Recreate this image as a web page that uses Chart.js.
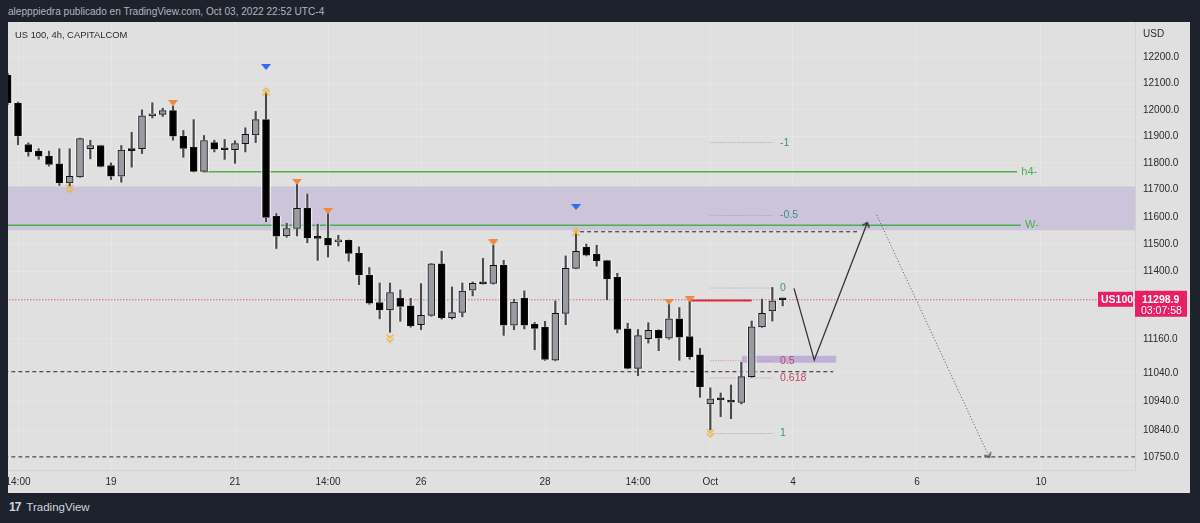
<!DOCTYPE html>
<html>
<head>
<meta charset="utf-8">
<script src="https://cdn.jsdelivr.net/npm/chart.js@4.4.1/dist/chart.umd.min.js"></script>
<style>
  html, body { margin: 0; padding: 0; width: 1200px; height: 523px; overflow: hidden; background: #1e222d; font-family: "Liberation Sans", Arial, sans-serif; }
  #head { position: absolute; left: 8px; top: 6px; font-size: 10.1px; color: #b2b5be; white-space: nowrap; }
  #panel { position: absolute; left: 8px; top: 22px; width: 1182px; height: 471px; background: #e0e0e0; }
  #title { position: absolute; left: 15px; top: 29px; font-size: 9.4px; color: #2a2a2a; white-space: nowrap; }
  #logo { position: absolute; left: 9px; top: 500px; font-size: 11.5px; color: #d1d4dc; white-space: nowrap; }
  #logo b { font-size: 12px; letter-spacing: -1px; margin-right: 6px; }
</style>
</head>
<body>
<div id="head">alepppiedra publicado en TradingView.com, Oct 03, 2022 22:52 UTC-4</div>
<div id="panel"><canvas id="chart"></canvas></div>
<div id="title">US 100, 4h, CAPITALCOM</div>
<div id="logo"><b>17</b>TradingView</div>

<script>
// bar index: 0 = Sep 19 02:00, one bar per 4h
const candleIdx = [-10,-9,-8,-7,-6,-5,-4,-3,-2,-1,0,1,2,3,4,5,6,7,8,9,10,11,12,13,14,15,16,17,18,19,
  20,21,22,23,24,25,26,27,28,29,30,31,32,33,34,35,36,37,38,39,40,41,42,43,44,45,46,47,48,49,
  50,51,52,53,54,55,56,57,58,59,60,61,62,63,64,65];
const openP = [12133,12026,11869,11844,11825,11796,11725,11748,11853,11865,11790,11750,11848,11853,11977,11983,11997,11900,11858,11768,
  11876,11851,11849,11872,11905,11963,11602,11530,11557,11631,11524,11521,11508,11514,11466,11388,11289,11263,11304,11277,
  11210,11243,11428,11235,11254,11333,11358,11358,11424,11208,11304,11212,11201,11085,11250,11412,11488,11463,11440,11380,
  11195,11056,11160,11190,11162,11231,11168,11103,10932,10948,10942,10937,11027,11202,11259,11300];
const highP = [12140,12030,11875,11853,11844,11853,11853,11893,11885,11866,11800,11865,11915,12000,12027,12006,12015,11922,11963,11903,
  11885,11888,11883,11932,11994,12069,11612,11576,11722,11684,11573,11612,11532,11515,11490,11415,11359,11359,11334,11304,
  11357,11430,11474,11345,11359,11363,11448,11496,11441,11301,11331,11218,11222,11295,11457,11545,11500,11496,11441,11394,
  11215,11193,11217,11192,11283,11271,11295,11126,10988,10970,10998,11077,11223,11301,11343,11305];
const lowP = [12020,11868,11825,11813,11788,11716,11714,11746,11815,11785,11738,11728,11784,11835,11969,11975,11885,11821,11766,11766,
  11841,11813,11798,11841,11876,11582,11484,11525,11530,11505,11441,11453,11493,11438,11353,11283,11231,11183,11222,11201,
  11192,11240,11230,11230,11238,11313,11355,11355,11172,11192,11195,11121,11084,11082,11210,11410,11457,11420,11299,11181,
  11054,11030,11145,11118,11158,11084,11088,10955,10842,10888,10881,10932,11025,11200,11223,11277];
const closeP = [12026,11901,11841,11825,11794,11725,11750,11891,11865,11787,11750,11848,11846,11977,11985,11997,11900,11854,11768,11884,
  11851,11849,11872,11907,11963,11598,11529,11557,11631,11523,11521,11496,11514,11466,11388,11287,11263,11325,11275,11206,
  11243,11428,11235,11253,11330,11358,11356,11423,11208,11291,11208,11197,11087,11250,11412,11474,11460,11440,11374,11193,
  11056,11171,11190,11162,11231,11166,11096,10992,10950,10946,10938,11027,11202,11250,11295,11298.9];

// axis
const yTickVals = [12200,12100,12000,11900,11800,11700,11600,11500,11400,11160,11040,10940,10840,10750];
const xTickIdx = [-9,0,12,21,30,42,51,58,66,78,90];
const xTickLabels = ['14:00','19','21','14:00','26','28','14:00','Oct','4','6','10'];

// drawings
const zoneTop = 11712, zoneBottom = 11551;
const levelH4 = 11767, levelW = 11569;
const dashLevels = [11545, 11044, 10750];
const dashStart = [45.4, -11, -11];
const dashEnd = [72.2, 69.9, 101];
const currentPrice = 11298.9;
const redLevel = 11296;
const fibLevels = [11876, 11605, 11341, 11083, 11022, 10830];
const fibNames = ['-1', '-0.5', '0', '0.5', '0.618', '1'];
const boxTop = 11100, boxBottom = 11076;
const zigIdx = [66.1, 68.06, 73.19];
const zigPrice = [11340, 11085, 11578];
const projIdx = [74.1, 85.0];
const projPrice = [11607, 10749];

// markers
const blueMarkIdx = [15, 45];
const blueMarkPrice = [12164, 11636];
const orangeMarkIdx = [6, 18, 21, 37, 54, 56];
const orangeMarkPrice = [12026, 11729, 11621, 11506, 11291, 11300];
const chevUpIdx = [15, 45];
const chevUpPrice = [12070, 11545];
const chevDownIdx = [-4, 27, 58];
const chevDownPrice = [11703, 11161, 10830];

const teal = '#3f8f86', pink = '#c0455f', green = '#4caf50';
const axisFont = '10px "Liberation Sans", Arial, sans-serif';

function seg(x0, x1, p) { return [{x: x0, y: p}, {x: x1, y: p}]; }
function pts(xs, ys) { return xs.map((v, k) => ({x: v, y: ys[k]})); }

function makeTri(color) {
  const c = document.createElement('canvas');
  c.width = 10; c.height = 6;
  const g = c.getContext('2d');
  g.fillStyle = color;
  g.beginPath(); g.moveTo(0, 0); g.lineTo(10, 0); g.lineTo(5, 6); g.closePath(); g.fill();
  return c;
}
function makeChevron(color, double) {
  const c = document.createElement('canvas');
  c.width = 10; c.height = 10;
  const g = c.getContext('2d');
  g.strokeStyle = color; g.lineWidth = 1.5;
  if (double) {
    g.beginPath(); g.moveTo(1.5, 5); g.lineTo(5, 1.5); g.lineTo(8.5, 5); g.stroke();
    g.beginPath(); g.moveTo(1.5, 9); g.lineTo(5, 5.5); g.lineTo(8.5, 9); g.stroke();
  } else {
    g.beginPath(); g.moveTo(1.5, 9); g.lineTo(5, 5); g.lineTo(8.5, 9); g.stroke();
  }
  return c;
}

const bodyColors = candleIdx.map((v, k) => closeP[k] < openP[k] ? '#000000' : '#9a9ca4');
const wickData = candleIdx.map((v, k) => ({x: v, y: [lowP[k], highP[k]]}));
const bodyData = candleIdx.map((v, k) => ({x: v, y: [openP[k], closeP[k]]}));

function lineDs(data, color, width, dash, order) {
  return { type: 'line', data, borderColor: color, borderWidth: width, borderDash: dash || [],
    pointRadius: 0, fill: false, tension: 0, order: order };
}
function markDs(data, img, rot, order) {
  return { type: 'line', data, showLine: false, pointStyle: img, rotation: rot,
    pointRadius: 5, order: order };
}

const datasets = [
  // purple zone
  { type: 'line', data: seg(-11, 101, zoneTop), borderWidth: 0, pointRadius: 0,
    fill: {value: zoneBottom}, backgroundColor: 'rgba(196,184,216,0.72)', order: 20 },
  { type: 'line', data: seg(61.04, 70.2, boxTop), borderWidth: 0, pointRadius: 0,
    fill: {value: boxBottom}, backgroundColor: 'rgba(180,160,215,0.75)', order: 19 },
  lineDs(seg(9, 87.68, levelH4), green, 1.5, null, 15),
  lineDs(seg(-11, 88.04, levelW), green, 1.5, null, 15),
  lineDs(seg(dashStart[0], dashEnd[0], dashLevels[0]), '#222', 1, [4, 3], 15),
  lineDs(seg(dashStart[1], dashEnd[1], dashLevels[1]), '#222', 1, [4, 3], 15),
  lineDs(seg(dashStart[2], dashEnd[2], dashLevels[2]), '#222', 1, [4, 3], 15),
  lineDs(seg(-11, 101, currentPrice), '#e91e63', 1, [1, 2], 15),
  ...fibLevels.map((v, k) => lineDs(seg(58, 64.1, v), (k === 3 || k === 4) ? '#d48a98' : '#86b0a6', 1, [1, 1.5], 15)),
  // candles
  { type: 'bar', data: wickData, backgroundColor: 'rgba(255,255,255,0.6)', barThickness: 3.5, grouped: false, order: 6 },
  { type: 'bar', data: wickData, backgroundColor: '#4a4a4a', barThickness: 1.6, grouped: false, order: 5 },
  { type: 'bar', data: bodyData, backgroundColor: 'rgba(255,255,255,0.7)', barThickness: 9, grouped: false,
    minBarLength: 2, order: 4 },
  { type: 'bar', data: bodyData, backgroundColor: bodyColors, borderColor: '#111', borderWidth: 1,
    borderSkipped: false, barThickness: 7, grouped: false, minBarLength: 2, order: 3 },
  // hand drawn
  lineDs(seg(56.1, 62, redLevel), '#d32f3f', 2, null, 2),
  { type: 'line', data: pts(zigIdx, zigPrice), borderColor: '#333', borderWidth: 1.3, tension: 0,
    pointRadius: [0, 0, 5], pointStyle: makeChevron('#333', false), rotation: 21, order: 2 },
  { type: 'line', data: pts(projIdx, projPrice), borderColor: '#555', borderWidth: 1, borderDash: [1, 2], tension: 0,
    pointRadius: [0, 5], pointStyle: makeChevron('#555', false), rotation: 155, order: 2 },
  markDs(pts(blueMarkIdx, blueMarkPrice), makeTri('#2f6cf0'), 0, 1),
  markDs(pts(orangeMarkIdx, orangeMarkPrice), makeTri('#f0883e'), 0, 1),
  markDs(pts(chevUpIdx, chevUpPrice), makeChevron('#f2b33d', true), 0, 1),
  markDs(pts(chevDownIdx, chevDownPrice), makeChevron('#f2b33d', true), 180, 1)
];

// texts on the chart and both axes (axis labels drawn here so Chart.js adds no label padding)
const overlay = {
  id: 'overlay',
  afterDatasetsDraw(chart) {
    const {ctx, scales: {x, y}} = chart;
    ctx.save();
    ctx.textBaseline = 'middle';
    ctx.font = '10.5px "Liberation Sans", Arial, sans-serif';
    fibLevels.forEach((v, k) => {
      ctx.fillStyle = (k === 3 || k === 4) ? pink : teal;
      ctx.fillText(fibNames[k], x.getPixelForValue(64.75), y.getPixelForValue(v));
    });
    ctx.font = '11px "Liberation Sans", Arial, sans-serif';
    ctx.fillStyle = green;
    ctx.fillText('h4-', x.getPixelForValue(88.1), y.getPixelForValue(levelH4));
    ctx.fillText('W-', x.getPixelForValue(88.45), y.getPixelForValue(levelW));
    ctx.restore();
  },
  afterDraw(chart) {
    const {ctx, scales: {x, y}, chartArea} = chart;
    ctx.save();
    ctx.textBaseline = 'middle';
    ctx.fillStyle = '#2a2a2a';
    ctx.font = axisFont;
    ctx.fillText('USD', chartArea.right + 8, 12);
    ctx.textAlign = 'left';
    yTickVals.forEach(v => ctx.fillText(v.toFixed(1), chartArea.right + 8, y.getPixelForValue(v)));
    ctx.textAlign = 'center';
    xTickIdx.forEach((v, k) => ctx.fillText(xTickLabels[k], x.getPixelForValue(v), chartArea.bottom + 12));
    // last price tags
    const yp = y.getPixelForValue(currentPrice);
    ctx.textAlign = 'left';
    ctx.fillStyle = '#e91e63';
    ctx.fillRect(chartArea.right - 37, yp - 8, 35, 15);
    ctx.fillRect(chartArea.right, yp - 9, 52, 26);
    ctx.fillStyle = '#ffffff';
    ctx.font = 'bold 10.5px "Liberation Sans", Arial, sans-serif';
    ctx.fillText('US100', chartArea.right - 34, yp);
    ctx.fillText('11298.9', chartArea.right + 7, yp);
    ctx.font = '10.5px "Liberation Sans", Arial, sans-serif';
    ctx.fillText('03:07:58', chartArea.right + 6, yp + 11);
    ctx.restore();
  }
};

Chart.defaults.font.family = '"Liberation Sans", Arial, sans-serif';
Chart.defaults.font.size = 10;

new Chart(document.getElementById('chart'), {
  type: 'bar',
  data: { datasets },
  options: {
    responsive: true,
    maintainAspectRatio: false,
    animation: false,
    events: [],
    layout: { padding: 0, autoPadding: false },
    plugins: { legend: { display: false }, tooltip: { enabled: false } },
    scales: {
      x: {
        type: 'linear', min: -9.968, max: 99.097, offset: false, bounds: 'data',
        afterBuildTicks: s => { s.ticks = xTickIdx.map(v => ({value: v})); },
        afterFit: s => { s.height = 23; },
        ticks: { display: false },
        grid: { color: 'rgba(255,255,255,0.18)', drawTicks: false, offset: false },
        border: { color: '#d2d2d2' }
      },
      y: {
        type: 'logarithmic', position: 'right', min: 10705.4, max: 12338.8, bounds: 'data',
        afterBuildTicks: s => { s.ticks = yTickVals.map(v => ({value: v})); },
        afterFit: s => { s.width = 55; },
        ticks: { display: false },
        grid: { color: 'rgba(255,255,255,0.18)', drawTicks: false },
        border: { color: '#d2d2d2' }
      }
    }
  },
  plugins: [overlay]
});
</script>
</body>
</html>
